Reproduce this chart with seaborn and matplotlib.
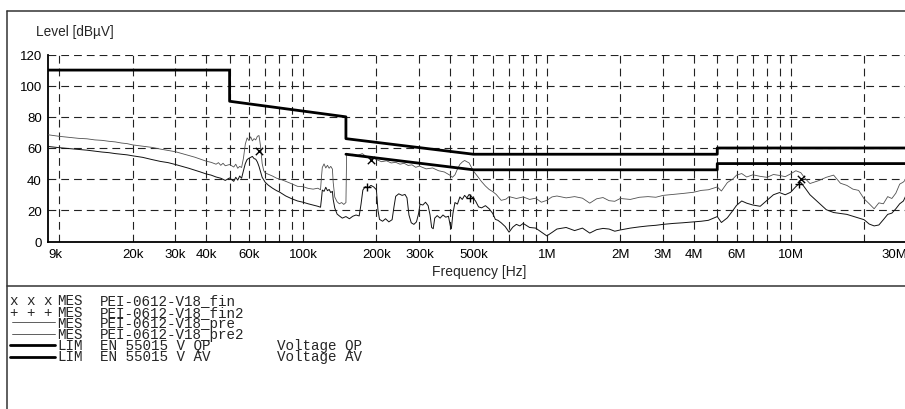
import matplotlib
matplotlib.use("Agg")
import matplotlib.pyplot as plt
from matplotlib.lines import Line2D
import numpy as np
import pandas as pd
import seaborn as sns

# ---------------------------------------------------------------- data
# Preview scan, quasi-peak detector (upper trace)
pre_khz = [9.0, 9.5, 10, 11, 12, 13, 14, 15, 16, 17, 18, 19, 20, 22, 24, 26, 28, 30, 32, 34,
           36, 38, 40, 42, 44, 45, 46, 47, 48, 50, 52, 53, 54, 55, 56, 57, 58, 59, 60, 61,
           62, 63, 64, 65, 66, 67, 68, 69, 70, 72, 75, 78, 80, 85, 90, 95, 100, 105, 110, 115,
           118, 119, 120, 122, 124, 126, 128, 130, 132, 133, 135, 138, 141, 144, 147, 150, 151, 155, 160, 165,
           170, 175, 180, 185, 190, 195, 200, 210, 220, 230, 240, 250, 260, 270, 280, 290, 300, 320, 340, 360,
           380, 400, 410, 420, 430, 440, 450, 460, 470, 480, 490, 500, 520, 540, 560, 580, 600, 620, 650, 680,
           700, 750, 800, 850, 900, 950, 1000, 1050, 1100, 1200, 1300, 1400, 1500, 1600, 1700, 1800, 1900, 2000, 2200, 2400,
           2600, 2800, 3000, 3300, 3600, 4000, 4300, 4600, 5000, 5200, 5500, 5800, 6000, 6300, 6600, 7000, 7500, 8000, 8500, 9000,
           9500, 10000, 10500, 11000, 11500, 12000, 13000, 14000, 15000, 16000, 17000, 18000, 19000, 20000, 21000, 22000, 23000, 24000, 25000, 26000,
           27000, 28000, 29000, 30000]
pre_db = [68.5, 68.0, 67.5, 66.8, 66.2, 65.9, 65.2, 64.9, 64.3, 63.9, 63.2, 62.8, 62.0, 61.2, 60.4, 59.3, 58.4, 57.6, 56.4, 55.2,
          54.1, 52.8, 51.6, 50.8, 49.6, 50.6, 48.9, 50.2, 48.6, 49.4, 47.8, 49.6, 47.0, 48.2, 47.5, 53.5, 62.5, 66.5, 64.8, 67.2,
          64.6, 66.0, 65.2, 67.5, 68.0, 61.0, 50.0, 45.5, 44.0, 43.2, 42.0, 40.6, 40.2, 38.6, 37.0, 35.4, 35.2, 34.1, 33.6, 34.2,
          33.2, 41.0, 47.5, 49.8, 47.2, 48.9, 47.0, 48.2, 46.5, 38.0, 28.5, 25.5, 24.2, 25.0, 23.8, 25.0, 56.2, 55.4, 56.0, 54.8,
          55.6, 56.4, 55.0, 54.2, 53.0, 53.6, 52.6, 51.2, 51.8, 50.4, 50.8, 49.6, 50.2, 48.8, 49.2, 47.6, 48.4, 46.6, 47.2, 45.4,
          44.6, 42.6, 41.2, 42.8, 46.5, 49.5, 51.0, 52.0, 51.2, 50.4, 47.8, 45.2, 41.8, 38.4, 35.6, 33.4, 32.0, 30.2, 26.4, 27.2,
          28.8, 27.6, 28.6, 27.0, 27.8, 25.2, 26.4, 28.6, 29.2, 28.0, 28.8, 27.8, 24.6, 27.4, 28.2, 26.2, 25.8, 27.6, 27.0, 28.4,
          28.8, 28.4, 29.6, 30.2, 30.8, 31.6, 32.8, 33.2, 35.0, 32.4, 37.8, 40.2, 42.6, 43.6, 41.4, 42.8, 41.8, 41.2, 43.0, 42.4,
          41.6, 43.4, 45.4, 44.2, 40.2, 37.2, 39.0, 41.2, 42.6, 37.4, 36.0, 33.6, 32.8, 27.4, 24.2, 21.0, 24.8, 24.2, 28.8, 27.6,
          31.0, 36.8, 38.2, 40.6]

# Preview scan, average detector (lower trace)
pre2_khz = [9.0, 9.5, 10, 11, 12, 13, 14, 15, 16, 17, 18, 19, 20, 22, 24, 26, 28, 30, 32, 34,
            36, 38, 40, 42, 44, 46, 48, 50, 52, 53, 54, 55, 56, 57, 58, 59, 60, 62, 63, 64,
            65, 66, 67, 68, 70, 72, 75, 78, 80, 85, 90, 95, 100, 105, 110, 115, 118, 119, 120, 122,
            124, 126, 128, 130, 132, 133, 135, 138, 141, 145, 150, 155, 160, 165, 170, 173, 176, 180, 185, 190,
            195, 200, 203, 206, 212, 218, 225, 232, 236, 240, 247, 255, 262, 267, 272, 278, 285, 292, 298, 302,
            310, 318, 326, 332, 337, 342, 347, 355, 365, 375, 385, 395, 402, 406, 412, 420, 430, 440, 450, 460,
            470, 480, 490, 500, 510, 525, 540, 560, 580, 600, 615, 630, 650, 675, 700, 725, 750, 775, 800, 850,
            900, 950, 1000, 1050, 1100, 1200, 1300, 1400, 1500, 1600, 1700, 1800, 1900, 2000, 2200, 2400, 2600, 2800, 3000, 3300,
            3600, 4000, 4300, 4600, 5000, 5200, 5500, 5800, 6000, 6300, 6600, 7000, 7500, 8000, 8500, 9000, 9500, 10000, 10500, 11000,
            11500, 12000, 13000, 14000, 15000, 16000, 17000, 18000, 19000, 20000, 21000, 22000, 23000, 24000, 25000, 26000, 27000, 28000, 29000, 30000]
pre2_db = [61.0, 60.6, 60.2, 59.6, 59.0, 58.6, 58.0, 57.4, 57.0, 56.4, 56.0, 55.6, 55.0, 54.0, 52.6, 51.4, 50.6, 49.4, 48.2, 47.0,
           45.8, 44.6, 43.4, 42.6, 41.4, 40.6, 39.2, 40.8, 38.6, 41.2, 39.4, 42.0, 40.6, 45.5, 50.0, 52.6, 53.4, 54.6, 53.2, 52.8,
           51.0, 48.2, 44.6, 41.2, 38.0, 36.2, 34.2, 32.6, 31.8, 29.2, 27.4, 26.0, 25.2, 24.2, 23.4, 22.6, 22.0, 27.0, 33.0, 32.2,
           34.8, 32.6, 33.4, 31.4, 32.2, 27.0, 21.5, 17.6, 16.4, 15.0, 16.0, 14.6, 16.2, 17.0, 16.4, 24.0, 33.0, 35.2, 34.6, 36.0,
           35.0, 33.2, 20.0, 14.2, 13.0, 14.6, 12.6, 14.0, 22.0, 29.0, 30.6, 29.6, 30.2, 28.0, 17.0, 12.0, 11.0, 12.6, 18.0, 24.0,
           23.4, 25.2, 23.0, 17.0, 9.0, 8.2, 15.0, 16.6, 15.0, 17.0, 15.6, 16.2, 10.0, 8.2, 18.0, 25.0, 24.0, 28.6, 27.0, 29.6,
           28.0, 30.2, 29.0, 27.6, 26.0, 22.2, 21.6, 23.0, 21.0, 18.0, 14.2, 13.6, 12.0, 9.6, 6.0, 9.2, 11.0, 10.0, 11.6, 9.0,
           8.6, 6.0, 3.6, 5.8, 8.0, 9.0, 7.0, 8.6, 5.4, 7.6, 8.4, 8.0, 6.6, 7.4, 8.6, 9.4, 10.0, 10.4, 11.0, 11.6,
           12.0, 12.6, 13.0, 13.6, 16.0, 12.2, 15.2, 20.0, 23.2, 26.0, 24.6, 23.4, 22.6, 26.4, 30.0, 31.4, 30.0, 31.6, 35.2, 38.0,
           34.0, 30.0, 25.0, 20.4, 18.6, 18.0, 17.4, 16.2, 15.0, 14.0, 11.2, 10.0, 10.6, 14.0, 17.4, 18.2, 21.0, 24.2, 26.0, 31.0]

# EN 55015 conducted voltage limits
qp_khz = [9, 50, 50, 150, 150, 500, 5000, 5000, 30000]
qp_db = [110, 110, 90, 80, 66, 56, 56, 60, 60]
av_khz = [150, 500, 5000, 5000, 30000]
av_db = [56, 46, 46, 50, 50]

# Final measurements
fin_khz = [66, 190, 11000]
fin_db = [58, 52.5, 40]
fin2_khz = [183, 483, 10800]
fin2_db = [35, 28, 37]

xtick_khz = [9, 20, 30, 40, 60, 100, 200, 300, 500, 1000, 2000, 3000, 4000, 6000, 10000, 30000]
xtick_labels = ["9k", "20k", "30k", "40k", "60k", "100k", "200k", "300k", "500k",
                "1M", "2M", "3M", "4M", "6M", "10M", "30M"]
ytick_db = [0, 20, 40, 60, 80, 100, 120]

legend_symbol = ["x x x", "+ + +"]
legend_kind = ["MES", "MES", "MES", "MES", "LIM", "LIM"]
legend_name = ["PEI-0612-V18_fin", "PEI-0612-V18_fin2", "PEI-0612-V18_pre",
               "PEI-0612-V18_pre2", "EN 55015 V QP", "EN 55015 V AV"]
legend_note = ["", "", "", "", "Voltage QP", "Voltage AV"]

# ---------------------------------------------------------------- style
sns.set_style("white")
plt.rcParams["font.family"] = ["Liberation Sans", "DejaVu Sans"]
MONO = ["Liberation Mono", "DejaVu Sans Mono"]

W, H = 905, 410
fig = plt.figure(figsize=(W / 100, H / 100), dpi=100)


def fx(px):
    return px / W


def fy(py):
    return 1 - py / H


top_px, bot_px, left_px, right_px = 55.5, 242.5, 48, 907
ax = fig.add_axes([fx(left_px), fy(bot_px), fx(right_px) - fx(left_px), (bot_px - top_px) / H])
ax.set_xscale("log")


def frame(khz, db):
    return pd.DataFrame({"f": np.asarray(khz, float) * 1e3, "L": db})


sns.lineplot(data=frame(pre_khz, pre_db), x="f", y="L", ax=ax, estimator=None, sort=False,
             color="#505050", lw=0.6, zorder=3)
sns.lineplot(data=frame(pre2_khz, pre2_db), x="f", y="L", ax=ax, estimator=None, sort=False,
             color="#111111", lw=0.7, zorder=3)
sns.lineplot(data=frame(qp_khz, qp_db), x="f", y="L", ax=ax, estimator=None, sort=False,
             color="black", lw=2.0, zorder=4)
sns.lineplot(data=frame(av_khz, av_db), x="f", y="L", ax=ax, estimator=None, sort=False,
             color="black", lw=2.0, zorder=4)
sns.scatterplot(data=frame(fin_khz, fin_db), x="f", y="L", ax=ax, marker="x", s=28,
                color="black", linewidth=1.0, zorder=5)
sns.scatterplot(data=frame(fin2_khz, fin2_db), x="f", y="L", ax=ax, marker="+", s=40,
                color="black", linewidth=1.0, zorder=5)

ax.set_xlim(9e3, 30e6)
ax.set_ylim(0, 120)

# grid at every integer multiple inside each decade; labels sit on minor ticks
grid_f = [m * d for d in (1e4, 1e5, 1e6, 1e7) for m in range(1, 10) if 9e3 < m * d < 30e6]
ax.xaxis.remove_overlapping_locs = False
ax.set_xticks(grid_f)
ax.set_xticklabels([])
ax.set_xticks([k * 1e3 for k in xtick_khz], xtick_labels, minor=True)
ax.set_yticks(ytick_db)
ax.set_yticklabels([str(v) for v in ytick_db])
ax.grid(True, which="major", color="#222222", lw=0.8, linestyle=(0, (7, 4.5)))
ax.grid(False, which="minor")
ax.set_axisbelow(True)
ax.tick_params(which="both", length=0, labelsize=9.5, colors="black")
ax.tick_params(axis="x", which="both", pad=4.5)
ax.tick_params(axis="y", pad=4.5)
labs = ax.xaxis.get_minorticklabels()
labs[0].set_ha("left")
labs[-1].set_ha("right")
ax.set_xlabel("")
ax.set_ylabel("")
for s in ("top", "right"):
    ax.spines[s].set_visible(False)
for s in ("left", "bottom"):
    ax.spines[s].set_color("black")
    ax.spines[s].set_linewidth(1.3)

fig.text(fx(36), fy(32), "Level [dBµV]", fontsize=9.8, va="center", ha="left")
fig.text(fx(479), fy(272), "Frequency [Hz]", fontsize=10, va="center", ha="center")

# outer frame and separator
frame_kw = dict(transform=fig.transFigure, color="#333333", lw=1.1)
fig.add_artist(Line2D([fx(7), fx(7)], [fy(12), fy(410)], **frame_kw))
fig.add_artist(Line2D([fx(7), fx(905)], [fy(12), fy(12)], **frame_kw))
fig.add_artist(Line2D([fx(7), fx(905)], [fy(287), fy(287)], **frame_kw))

# legend block: one text per column, rows 11.5 px apart
row_y = [300, 311.5, 323, 334.5, 346, 357.5]
mono_kw = dict(family=MONO, fontsize=10.3, ha="left", va="top", linespacing=0.74)
top_y = fy(row_y[0] - 5.5)
fig.text(fx(10), top_y, "\n".join(legend_symbol), **mono_kw)
fig.text(fx(57), top_y, "\n".join(legend_kind), **mono_kw)
fig.text(fx(100), top_y, "\n".join(legend_name), **mono_kw)
fig.text(fx(277), top_y, "\n".join(legend_note), **mono_kw)
for i in range(2, 6):
    y = fy(row_y[i])
    if i < 4:
        fig.add_artist(Line2D([fx(12), fx(55)], [y, y], transform=fig.transFigure,
                              color="#444444", lw=0.6))
    else:
        fig.add_artist(Line2D([fx(10), fx(55)], [y, y], transform=fig.transFigure,
                              color="black", lw=2.0))

fig.savefig("out.png", dpi=100)
